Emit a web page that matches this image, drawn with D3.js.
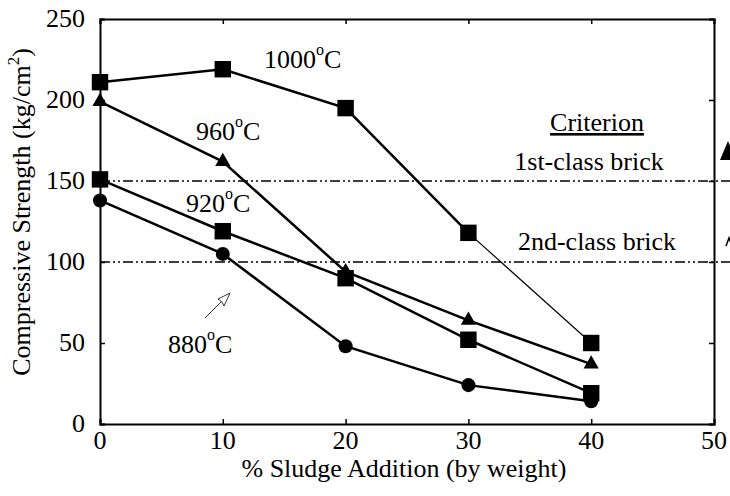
<!DOCTYPE html>
<html>
<head>
<meta charset="utf-8">
<script src="https://cdn.jsdelivr.net/npm/d3@7"></script>
<style>
    body { margin: 0; background: #fff; }
    text { font-family: "Liberation Serif", "Times New Roman", serif; fill: #000; }
</style>
</head>
<body>
<svg id="chart" width="730" height="496"></svg>
<script>
var sludge = [0, 10, 20, 30, 40];
var s1000 = [211, 219, 195, 118, 50];
var s960 = [199, 162, 94, 64, 37];
var s920 = [151, 119, 90, 52, 19];
var s880 = [138, 105, 48, 24, 14];
var xTicks = [0, 10, 20, 30, 40, 50];
var yTicks = [0, 50, 100, 150, 200, 250];
var criteria = [150, 100];

var svg = d3.select('#chart');
var pL = 100, pR = 714, pT = 19, pB = 424;

var x = d3.scaleLinear().domain([0, 50]).range([pL, pR]);
var y = d3.scaleLinear().domain([0, 250]).range([pB, pT]);

// frame with inward ticks on all sides
function frame(g, axis, scale, major, minor) {
    g.call(axis(scale).tickValues(minor).tickSize(2).tickFormat(''));
    g.call(axis(scale).tickValues(major).tickSize(5).tickFormat(''));
}
frame(svg.append('g').attr('transform', 'translate(0,' + pB + ')'), d3.axisTop, x, xTicks, d3.range(0, 51, 2));
frame(svg.append('g').attr('transform', 'translate(0,' + pT + ')'), d3.axisBottom, x, xTicks, d3.range(0, 51, 2));
frame(svg.append('g').attr('transform', 'translate(' + pL + ',0)'), d3.axisRight, y, yTicks, d3.range(0, 251, 10));
frame(svg.append('g').attr('transform', 'translate(' + pR + ',0)'), d3.axisLeft, y, yTicks, d3.range(0, 251, 10));

svg.selectAll('.domain').attr('stroke-width', 2);
svg.selectAll('.tick line').attr('stroke-width', 1.5);

// tick labels
svg.selectAll('.xlab').data(xTicks).enter().append('text')
    .attr('x', d => x(d)).attr('y', pB + 25)
    .attr('text-anchor', 'middle').attr('font-size', 26)
    .text(d => d);
svg.selectAll('.ylab').data(yTicks).enter().append('text')
    .attr('x', pL - 15).attr('y', d => y(d) + 8)
    .attr('text-anchor', 'end').attr('font-size', 26)
    .text(d => d);

// axis titles
svg.append('text').attr('x', 404).attr('y', 477)
    .attr('text-anchor', 'middle').attr('font-size', 26)
    .text('% Sludge Addition (by weight)');
var yt = svg.append('text').attr('transform', 'translate(30,212) rotate(-90)')
    .attr('text-anchor', 'middle').attr('font-size', 26);
yt.append('tspan').text('Compressive Strength (kg/cm');
yt.append('tspan').attr('font-size', 17).attr('dy', -11).text('2');
yt.append('tspan').attr('dy', 11).text(')');

// criterion lines
svg.selectAll('.crit').data(criteria).enter().append('line')
    .attr('x1', pL).attr('x2', 730)
    .attr('y1', d => y(d)).attr('y2', d => y(d))
    .attr('stroke', '#000').attr('stroke-width', 1.5)
    .attr('stroke-dasharray', '10,3,2,3,2,3');

svg.append('text').attr('x', 597).attr('y', 131).attr('text-anchor', 'middle')
    .attr('font-size', 26).attr('text-decoration', 'underline').text('Criterion');
svg.append('text').attr('x', 589).attr('y', 170).attr('text-anchor', 'middle')
    .attr('font-size', 26).text('1st-class brick');
svg.append('text').attr('x', 597).attr('y', 250).attr('text-anchor', 'middle')
    .attr('font-size', 26).text('2nd-class brick');

// arrows at right edge (cut off)
svg.append('path').attr('d', 'M720,160 L728,141 L736,160 Z').attr('fill', '#000');
svg.append('path').attr('d', 'M726,246 L729,238 L732,246').attr('fill', 'none').attr('stroke', '#000').attr('stroke-width', 1.5);

// series
var line = d3.line().x(d => x(d[0])).y(d => y(d[1]));
function series(vals, shape, size, thinLast) {
    var pts = sludge.map((s, i) => [s, vals[i]]);
    var thick = thinLast ? pts.slice(0, pts.length - 1) : pts;
    svg.append('path').datum(thick).attr('d', line)
        .attr('fill', 'none').attr('stroke', '#000').attr('stroke-width', 2.5);
    if (thinLast) {
        svg.append('path').datum(pts.slice(pts.length - 2)).attr('d', line)
            .attr('fill', 'none').attr('stroke', '#000').attr('stroke-width', 1.2);
    }
    svg.selectAll(null).data(pts).enter().append('path')
        .attr('transform', d => 'translate(' + x(d[0]) + ',' + y(d[1]) + ')')
        .attr('d', d3.symbol().type(shape).size(size))
        .attr('fill', '#000');
}
series(s880, d3.symbolCircle, 155, false);
series(s920, d3.symbolSquare, 270, false);
series(s960, d3.symbolTriangle, 100, false);
series(s1000, d3.symbolSquare, 270, true);

// temperature labels
function tlabel(tx, ty, t) {
    var el = svg.append('text').attr('x', tx).attr('y', ty).attr('font-size', 26);
    el.append('tspan').text(t);
    el.append('tspan').attr('font-size', 16).attr('dy', -13).text('o');
    el.append('tspan').attr('dy', 13).text('C');
}
tlabel(264, 68, '1000');
tlabel(196, 140, '960');
tlabel(186, 212, '920');
tlabel(168, 353, '880');

// pointer arrow to 880C line
svg.append('line').attr('x1', 205).attr('y1', 318).attr('x2', 227).attr('y2', 296)
    .attr('stroke', '#000').attr('stroke-width', 0.8);
svg.append('path').attr('d', 'M230,293 L218,299 L222,302 L224,306 Z')
    .attr('fill', '#fff').attr('stroke', '#000').attr('stroke-width', 0.8);
</script>
</body>
</html>
